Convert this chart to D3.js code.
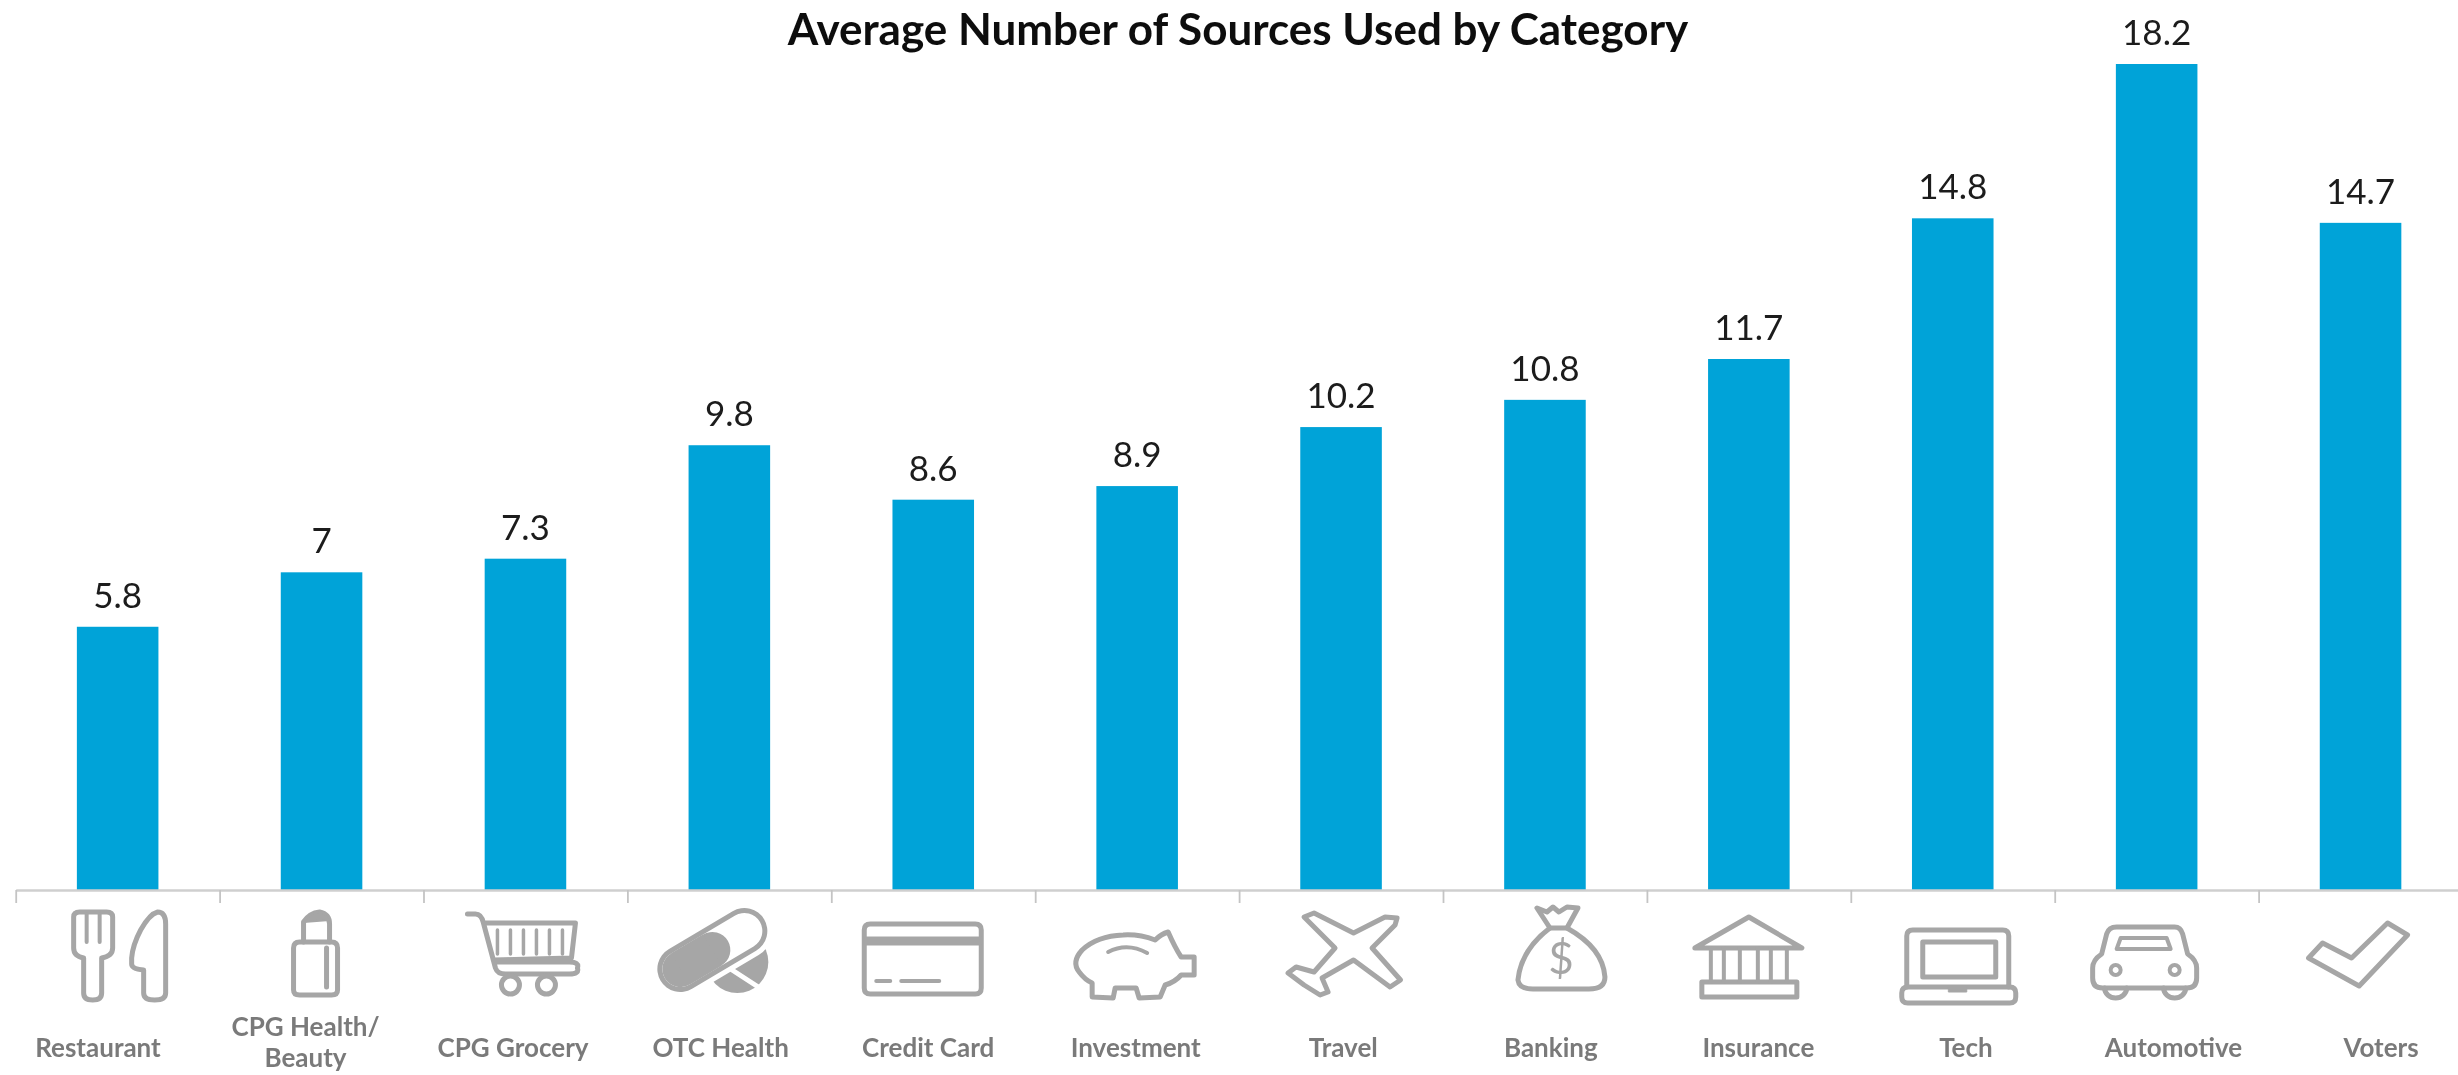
<!DOCTYPE html>
<html><head><meta charset="utf-8">
<script src="https://cdn.jsdelivr.net/npm/d3@7/dist/d3.min.js"></script>
<style>html,body{margin:0;padding:0;background:#fff}svg{display:block}</style>
</head><body><svg id="c" width="2458" height="1075"></svg>
<script>
const categories = ["Restaurant","CPG Health/ Beauty","CPG Grocery","OTC Health","Credit Card","Investment","Travel","Banking","Insurance","Tech","Automotive","Voters"];
const values = [5.8,7,7.3,9.8,8.6,8.9,10.2,10.8,11.7,14.8,18.2,14.7];
const valueLabels = ["5.8","7","7.3","9.8","8.6","8.9","10.2","10.8","11.7","14.8","18.2","14.7"];
const titleText = "Average Number of Sources Used by Category";

const GREY="#a6a6a6", BLUE="#00a3d8";
const svg=d3.select("#c");
const defs=svg.append("defs");
defs.append("filter").attr("id","soft").append("feGaussianBlur").attr("stdDeviation",0.7);

const x=d3.scaleBand().domain(categories).range([15.7,2462.5]).paddingInner(0.6).paddingOuter(0.3);
const y=d3.scaleLinear().domain([0,18.2]).range([890,64]);
const labelX=d3.scalePoint().domain(categories).range([98,2381]);
const tickX=d3.scaleLinear().domain([0,categories.length]).range(x.range());

svg.append("g").selectAll("rect").data(categories).join("rect")
  .attr("x",d=>x(d)).attr("width",x.bandwidth())
  .attr("y",(d,i)=>y(values[i])).attr("height",(d,i)=>y(0)-y(values[i]))
  .attr("fill",BLUE);

const ax=svg.append("g").attr("transform",`translate(0,${y(0)})`)
  .call(d3.axisBottom(tickX).tickValues(d3.range(categories.length)).tickSize(13).tickSizeOuter(0).tickFormat(""));
ax.select(".domain").attr("stroke","#cfcfcf").attr("stroke-width",2.5);
ax.selectAll("line").attr("stroke","#c4c4c4").attr("stroke-width",1.8);

const soft=svg.append("g").attr("filter","url(#soft)");

soft.append("text").attr("x",1238).attr("y",45).attr("text-anchor","middle")
  .attr("font-family","Lato").attr("font-weight",700).attr("font-size",44).attr("fill","#111").text(titleText);

soft.append("g").selectAll("text").data(categories).join("text")
  .attr("x",d=>x(d)+x.bandwidth()/2).attr("y",(d,i)=>y(values[i])-19)
  .attr("text-anchor","middle").attr("font-family","Lato").attr("font-size",35).attr("fill","#1a1a1a")
  .text((d,i)=>valueLabels[i]);

const lab=soft.append("g").attr("font-family","Lato").attr("font-size",26).attr("font-weight",700).attr("fill","#7a7a7a").attr("text-anchor","middle");
categories.forEach(c=>{
  if(c.includes("/ ")){
    const [a,b]=c.split("/ ");
    lab.append("text").attr("x",labelX(c)).attr("y",1036).text(a+"/");
    lab.append("text").attr("x",labelX(c)).attr("y",1067).text(b);
  } else lab.append("text").attr("x",labelX(c)).attr("y",1057).text(c);
});

// icon glyphs, local coordinates: origin = band centre on the axis
const L=(s,o={})=>g=>g.append("path").attr("d",s).attr("fill",o.fill||"none").attr("stroke",o.stroke||GREY).attr("stroke-width",o.w||5).attr("stroke-linejoin","round").attr("stroke-linecap","round");
const icons=[
 g=>{ L("M-44,27 Q-44,22 -38,22 L-11,22 Q-5,22 -5,27 L-5,58 Q-5,66 -16,68 L-16,103 Q-16,110 -25,110 Q-34,110 -34,103 L-34,68 Q-44,66 -44,58 Z")(g);
      L("M-31,24 L-31,52 M-18,24 L-18,52",{w:4})(g);
      L("M48,34 Q48,22 40,22 Q32,24 23,40 Q15,55 14,68 L14,74 Q14,79 26,80 L26,103 Q26,110 37,110 Q48,110 48,103 Z")(g); },
 g=>{ L("M-18,52 L-18,32 Q-12,23 -2,22 Q8,24 8,34 L8,52")(g);
      L("M-18,32 Q-12,23 -2,22 Q8,24 8,30 Z",{fill:GREY,w:2})(g);
      L("M-22,52 L10,52 Q16,52 16,58 L16,100 Q16,105 10,105 L-22,105 Q-28,105 -28,100 L-28,58 Q-28,52 -22,52 Z M5,58 L5,97")(g); },
 g=>{ L("M-58,24 L-50,24 Q-44,24 -42,33 L50,33 L46,68 L-32,70 M-42,33 L-30,78 Q-28,84 -20,84 L44,84 Q54,84 52,78 Q54,72 44,72 L-31,72")(g);
      L("M-28,40 L-28,64 M-15,40 L-15,64 M-2,40 L-2,64 M11,40 L11,64 M24,40 L24,64 M37,40 L37,64",{w:3.5})(g);
      L("M-6,95 A9,9 0 1 1 -24,95 A9,9 0 1 1 -6,95 Z M30,95 A9,9 0 1 1 12,95 A9,9 0 1 1 30,95 Z")(g); },
 g=>{ const cap=(c,w,lc,x2=15,y2=41)=>g.append("line").attr("x1",-49).attr("y1",79).attr("x2",x2).attr("y2",y2).attr("stroke",c).attr("stroke-width",w).attr("stroke-linecap",lc);
      g.append("circle").attr("cx",8).attr("cy",72).attr("r",31).attr("fill",GREY);
      cap("#fff",56,"round");
      L("M-8,73 L32,99",{stroke:"#fff",w:5})(g);
      cap(GREY,46,"round");
      cap("#fff",36,"round");
      cap(GREY,36,"round",-17,60);
      g.append("line").attr("x1",-17).attr("y1",60).attr("x2",-49).attr("y2",79).attr("stroke",GREY).attr("stroke-width",36).attr("stroke-linecap","butt"); },
 g=>{ L("M-63,34 L42,34 Q48,34 48,40 L48,98 Q48,104 42,104 L-63,104 Q-69,104 -69,98 L-69,40 Q-69,34 -63,34 Z")(g);
      L("M-69,47 L48,47 L48,55 L-69,55 Z",{fill:GREY,w:1})(g);
      L("M-57,91 L-43,91 M-32,91 L6,91",{w:4})(g); },
 g=>{ L("M57,67 L44,67 Q38,58 31,42 Q24,44 18,50 Q2,44 -14,45 Q-40,46 -55,60 Q-66,72 -58,82 Q-52,90 -45,93 L-45,107 L-24,108 L-22,98 L-1,98 L2,108 L23,107 L28,95 Q38,92 44,85 L57,85 Z")(g);
      L("M-29,62 Q-10,52 10,63",{w:4})(g); },
 g=>{ L("M-37,27 L-27,23 L12.5,43 L44,27 L56,28 L54,35 L31,58 L59.5,90 L49,97 L12.5,70 L-19,88 L-13,102 L-21,105 L-37,95 L-53,83 L-45,77 L-27,82 L-6,58 Z")(g); },
 g=>{ L("M-8,18 L2,22 L8,17 L14,22 L22,17 L33,18 L22,38 L5,38 Z")(g);
      L("M5,38 Q-24,60 -27,90 Q-26,99 -12,99 L44,99 Q60,99 60,87 Q58,58 22,38")(g);
      g.append("text").attr("x",16).attr("y",84).attr("text-anchor","middle").attr("font-family","Lato").attr("font-size",44).attr("fill",GREY).text("$"); },
 g=>{ L("M0,27 L53,58 L-54,58 Z M-47,92 L48,92 L48,107 L-47,107 Z")(g);
      L("M-38,58 L-38,92 M-25,58 L-25,92 M-9,58 L-9,92 M9,58 L9,92 M22,58 L22,92 M38,58 L38,92",{w:4})(g); },
 g=>{ L("M-46,97 L-46,46 Q-46,40 -40,40 L50,40 Q56,40 56,46 L56,97")(g);
      L("M-30,52 L43,52 L43,87 L-30,87 Z")(g);
      L("M-45,97 L57,97 Q63,97 63,103 L63,107 Q63,113 57,113 L-45,113 Q-51,113 -51,107 L-51,103 Q-51,97 -45,97 Z")(g);
      L("M-4,97 L14,97 L14,102 L-4,102 Z",{fill:GREY,w:1})(g); },
 g=>{ L("M-40,37 L18,37 Q24,37 26,44 L31,64 Q40,70 40,78 L40,88 Q40,98 30,98 L-54,98 Q-64,98 -64,88 L-64,78 Q-64,70 -55,64 L-50,44 Q-48,37 -40,37 Z")(g);
      L("M-36,48 L10,48 L14,59 L-40,59 Z",{w:4})(g);
      L("M-36,80 A5,5 0 1 1 -46,80 A5,5 0 1 1 -36,80 Z M23,80 A5,5 0 1 1 13,80 A5,5 0 1 1 23,80 Z",{w:4})(g);
      L("M-52,98 A11,10 0 0 0 -30,98 M7,98 A11,10 0 0 0 29,98")(g); },
 g=>{ L("M27,33 L47,45 L-1.4,96 L-52,68 L-38,53 L-9,68 Z")(g); }
];
categories.forEach((c,i)=>{
  const g=soft.append("g").attr("transform",`translate(${x(c)+x.bandwidth()/2},${y(0)})`);
  icons[i](g);
});
</script></body></html>
